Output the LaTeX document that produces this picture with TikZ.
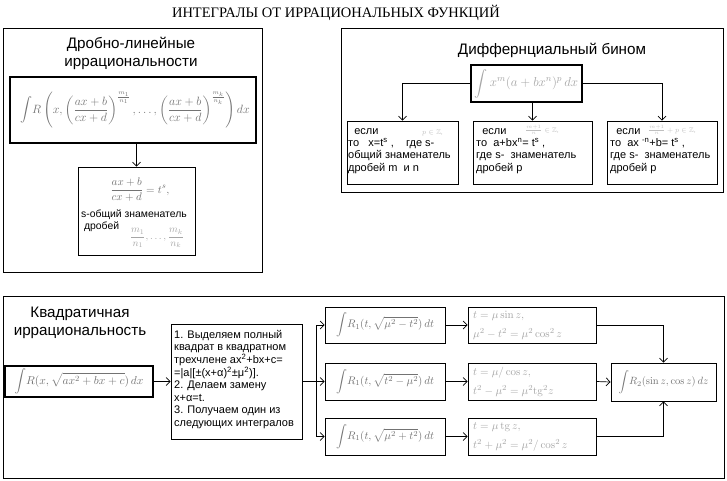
\RequirePackage{fix-cm}
\documentclass[tikz,border=0pt]{standalone}
\usepackage{amssymb}
\usepackage[no-math]{fontspec}
\setmainfont{Liberation Sans}
\newfontfamily\titlefont{Liberation Serif}
\usetikzlibrary{arrows.meta}
\begin{document}
\begin{tikzpicture}[x=1pt,y=-1pt,
  panel/.style={draw,line width=0.9pt,inner sep=0pt},
  fbox/.style={draw,line width=1.8pt,inner sep=0pt},
  tbox/.style={draw,line width=0.9pt,inner sep=0pt},
  arr/.style={-{Straight Barb[length=4pt,width=8pt]},line width=0.7pt},
  ln/.style={line width=0.7pt},
  head/.style={font=\fontsize{15.2}{18}\selectfont,align=center,inner sep=0pt},
  body/.style={font=\fontsize{11}{12.3}\selectfont,align=left,inner sep=0pt,anchor=north west},
  fml/.style={inner sep=0pt,text=black!55},
  fmlf/.style={inner sep=0pt,text=black!35},
  tiny/.style={inner sep=0pt,text=black!25,font=\fontsize{7}{8}\selectfont,anchor=west}]
\fill[white] (0,0) rectangle (727,480);
\useasboundingbox (0,0) rectangle (727,480);
% title
\node[inner sep=0pt,font=\titlefont\fontsize{14.5}{17}\selectfont] (title) at (336,13) {ИНТЕГРАЛЫ ОТ ИРРАЦИОНАЛЬНЫХ ФУНКЦИЙ};
% ---------- panel 1
\node[panel,minimum width=259pt,minimum height=244pt] (p1) at (132.5,150) {};
\node[head] (h1) at (131,53) {Дробно-линейные\\иррациональности};
\node[fbox,minimum width=246pt,minimum height=66pt] (F1) at (133,110) {};
\node[fml,font=\fontsize{12}{14}\selectfont] (f1) at (135,110) {$\displaystyle\int\! R\left(x,\left(\frac{ax+b}{cx+d}\right)^{\frac{m_1}{n_1}},\ldots,\left(\frac{ax+b}{cx+d}\right)^{\frac{m_k}{n_k}}\right)dx$};
\node[tbox,minimum width=117pt,minimum height=88pt] (L1) at (136.5,211) {};
\node[fml,font=\fontsize{11}{13}\selectfont] (l1f) at (140,190) {$\displaystyle\frac{ax+b}{cx+d}=t^s,$};
\node[body,font=\fontsize{10.4}{11.5}\selectfont] (l1t) at (81,210) {s-общий знаменатель\\\ дробей};
\node[fmlf,font=\fontsize{10}{12}\selectfont] (l1g) at (157,238) {$\displaystyle\frac{m_1}{n_1},\ldots,\frac{m_k}{n_k}$};
\draw[arr] (F1.south -| L1.north) -- (L1.north);
% ---------- panel 2
\node[panel,minimum width=382pt,minimum height=164pt] (p2) at (532,110) {};
\node[head] (h2) at (552,50) {Диффернциальный бином};
\node[fbox,line width=1.4pt,minimum width=111pt,minimum height=37pt] (B0) at (526.5,83.5) {};
\node[fmlf,font=\fontsize{13}{15}\selectfont] (b0f) at (526.5,83.5) {$\displaystyle\int x^m(a+bx^n)^p\,dx$};
\node[tbox,minimum width=111pt,minimum height=63pt] (S1) at (402.5,152.5) {};
\node[tbox,minimum width=119pt,minimum height=63pt] (S2) at (532.5,152.5) {};
\node[tbox,minimum width=110pt,minimum height=63pt] (S3) at (662,152.5) {};
\node[body] (s1t) at (348,128) {\ \ если\\то\ \ \ x=t\textsuperscript{s} ,\ \ \ \ где s-\\общий знаменатель\\дробей m\ \ и n};
\node[body] (s2t) at (476,128) {\ \ если\\то\ \ a+bx\textsuperscript{n}= t\textsuperscript{s} ,\\где s-\ \ знаменатель\\дробей p};
\node[body] (s3t) at (610,128) {\ \ если\\то\ \ ax \textsuperscript{-n}+b= t\textsuperscript{s} ,\\где s-\ \ знаменатель\\дробей p};
\node[tiny] (s1c) at (422,133) {$p\in\mathbb{Z}$,};
\node[tiny] (s2c) at (525,130) {$\frac{m+1}{n}\in\mathbb{Z}$,};
\node[tiny] (s3c) at (648,130) {$\frac{m+1}{n}+p\in\mathbb{Z}$,};
\draw[arr] (B0.west) -| (S1.north);
\draw[arr] (B0.south -| S2.north) -- (S2.north);
\draw[arr] (B0.east) -| (S3.north);
% ---------- panel 3
\node[panel,minimum width=721pt,minimum height=182pt] (p3) at (363.5,387) {};
\node[head] (h3) at (80,323) {Квадратичная\\иррациональность};
\node[fbox,minimum width=148pt,minimum height=31pt] (Q0) at (79,381.5) {};
\node[fml,font=\fontsize{11.5}{13}\selectfont] (q0f) at (79,381.5) {$\displaystyle\int\! R(x,\sqrt{ax^2+bx+c})\,dx$};
\node[tbox,minimum width=131pt,minimum height=115pt] (St) at (236.5,381.5) {};
\node[body,font=\fontsize{11}{12.6}\selectfont] (stt) at (174,330) {1. Выделяем полный\\квадрат в квадратном\\трехчлене ax\textsuperscript{2}+bx+c=\\=|a|[±(x+α)\textsuperscript{2}±μ\textsuperscript{2})].\\2. Делаем замену\\x+α=t.\\3. Получаем один из\\следующих интегралов};
\coordinate (br) at (316,381.5);
\node[tbox,minimum width=120pt,minimum height=36pt] (R1) at (385,325) {};
\node[tbox,minimum width=120pt,minimum height=37pt] (R2) at (385,381.5) {};
\node[tbox,minimum width=120pt,minimum height=37pt] (R3) at (385,436.5) {};
\node[fml,font=\fontsize{11}{13}\selectfont] (r1f) at (385,325) {$\displaystyle\int\! R_1(t,\sqrt{\mu^2-t^2})\,dt$};
\node[fml,font=\fontsize{11}{13}\selectfont] (r2f) at (385,381.5) {$\displaystyle\int\! R_1(t,\sqrt{t^2-\mu^2})\,dt$};
\node[fml,font=\fontsize{11}{13}\selectfont] (r3f) at (385,436.5) {$\displaystyle\int\! R_1(t,\sqrt{\mu^2+t^2})\,dt$};
\node[tbox,minimum width=128pt,minimum height=36pt] (T1) at (532,325) {};
\node[tbox,minimum width=128pt,minimum height=37pt] (T2) at (532,381.5) {};
\node[tbox,minimum width=128pt,minimum height=37pt] (T3) at (532,436.5) {};
\node[fmlf,font=\fontsize{11}{19}\selectfont,align=left,anchor=west] (t1f) at (473,325) {$t=\mu\sin z,$\\$\mu^2-t^2=\mu^2\cos^2 z$};
\node[fmlf,font=\fontsize{11}{19}\selectfont,align=left,anchor=west] (t2f) at (473,381.5) {$t=\mu/\cos z,$\\$t^2-\mu^2=\mu^2\mathrm{tg}^2 z$};
\node[fmlf,font=\fontsize{11}{19}\selectfont,align=left,anchor=west] (t3f) at (473,436.5) {$t=\mu\,\mathrm{tg}\,z,$\\$t^2+\mu^2=\mu^2/\cos^2 z$};
\node[tbox,minimum width=105pt,minimum height=38pt] (E) at (663.5,382) {};
\node[fml,font=\fontsize{10.5}{13}\selectfont] (ef) at (663.5,382) {$\displaystyle\int\! R_2(\sin z,\cos z)\,dz$};
\draw[arr] (Q0.east) -- (St.west);
\draw[ln] (St.east) -- (br);
\draw[arr] (br) |- (R1.west);
\draw[arr] (br) -- (R2.west);
\draw[arr] (br) |- (R3.west);
\draw[arr] (R1.east) -- (T1.west);
\draw[arr] (R2.east) -- (T2.west);
\draw[arr] (R3.east) -- (T3.west);
\draw[arr] (T1.east) -| (E.north);
\draw[arr] (T2.east) -- (E.west);
\draw[arr] (T3.east) -| (E.south);
\end{tikzpicture}
\end{document}
